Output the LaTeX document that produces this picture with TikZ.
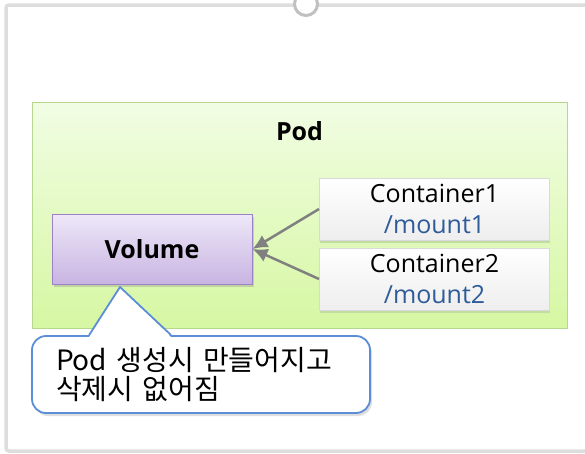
\documentclass[tikz,border=0pt]{standalone}
\usepackage{fontspec}
\setmainfont{Open Sans}
\newfontfamily\kor{Noto Sans CJK KR}
\usepackage{tikz}
\usetikzlibrary{arrows.meta,positioning,calc,shadows}
\definecolor{grisCadre}{HTML}{DDDDDD}
\definecolor{grisAnneau}{HTML}{C0C0C0}
\definecolor{vertHaut}{HTML}{F1FDE4}
\definecolor{vertBas}{HTML}{D6F7A2}
\definecolor{vertBord}{HTML}{B7D78F}
\definecolor{violetHaut}{HTML}{EEE8F8}
\definecolor{violetBas}{HTML}{C8B4E2}
\definecolor{violetBord}{HTML}{9E80C8}
\definecolor{grisBoite}{HTML}{D9D9D9}
\definecolor{grisBas}{HTML}{EEEEEE}
\definecolor{ombreVerte}{HTML}{C2DCA2}
\definecolor{grisFleche}{HTML}{808080}
\definecolor{bleuTexte}{HTML}{2E5C99}
\definecolor{bleuBulle}{HTML}{5B8ED6}

\begin{document}
\begin{tikzpicture}[x=1pt,y=-1pt]
\tikzstyle{cadre}=[draw=grisCadre,line width=3.5pt,rounded corners=3pt]
\tikzstyle{anneau}=[circle,draw=grisAnneau,line width=3pt,fill=white,minimum size=23pt,inner sep=0pt]
\tikzstyle{boitePod}=[rectangle,draw=vertBord,line width=1pt,top color=vertHaut,bottom color=vertBas,minimum width=535pt,minimum height=226pt]
\tikzstyle{boiteVol}=[rectangle,draw=violetBord,line width=1pt,top color=violetHaut,bottom color=violetBas,minimum width=200pt,minimum height=70pt,font=\fontsize{25}{30}\selectfont\bfseries,drop shadow={shadow xshift=2pt,shadow yshift=-3pt,opacity=0.3}]
\tikzstyle{boiteCont}=[rectangle,draw=grisBoite,line width=1pt,top color=white,bottom color=grisBas,minimum width=230pt,minimum height=62pt,align=center,font=\fontsize{25}{31}\selectfont,drop shadow={shadow xshift=0pt,shadow yshift=-2.5pt,fill=ombreVerte,opacity=1}]
\tikzstyle{fleche}=[-{Latex[length=15pt,width=14pt]},line width=2.5pt,draw=grisFleche,fill=grisFleche]
\tikzstyle{bulle}=[rectangle,rounded corners=14pt,draw=bleuBulle,line width=1.8pt,fill=white,minimum width=338pt,minimum height=77pt,text width=290pt,inner xsep=24pt,align=left,font=\kor\fontsize{28}{29}\selectfont,drop shadow={shadow xshift=2pt,shadow yshift=-3pt,opacity=0.25}]
\useasboundingbox (0,0) rectangle (585,453);
% cadre
\draw[cadre] (595,451) -- (6,451) -- (6,5) -- (595,5);
\node[anneau] (anneau) at (306,4) {};
% pod
\node[boitePod] (pod) at (299.5,215) {};
\node[font=\fontsize{25}{30}\selectfont\bfseries] (titrePod) at (299.5,131) {Pod};
\node[boiteVol] (vol) at (152,249) {Volume};
\node[boiteCont] (c1) at (434.5,209) {Container1\\\textcolor{bleuTexte}{/mount1}};
\node[boiteCont] (c2) at (434.5,279) {Container2\\\textcolor{bleuTexte}{/mount2}};
\draw[fleche] (c1.west) -- (vol.east);
\draw[fleche] (c2.west) -- (vol.east);
% bulle
\node[bulle] (bulle) at (201,374.5) {Pod 생성시 만들어지고\\삭제시 없어짐};
\coordinate (pointe) at (120,287);
\coordinate (baseG) at ($(bulle.north west)+(58,0)$);
\coordinate (baseD) at ($(bulle.north west)+(140,0)$);
\fill[white] ($(baseG)+(0,2)$) -- (pointe) -- ($(baseD)+(0,2)$) -- cycle;
\draw[draw=bleuBulle,line width=1.8pt,line join=round] (baseG) -- (pointe) -- (baseD);
\end{tikzpicture}
\end{document}
